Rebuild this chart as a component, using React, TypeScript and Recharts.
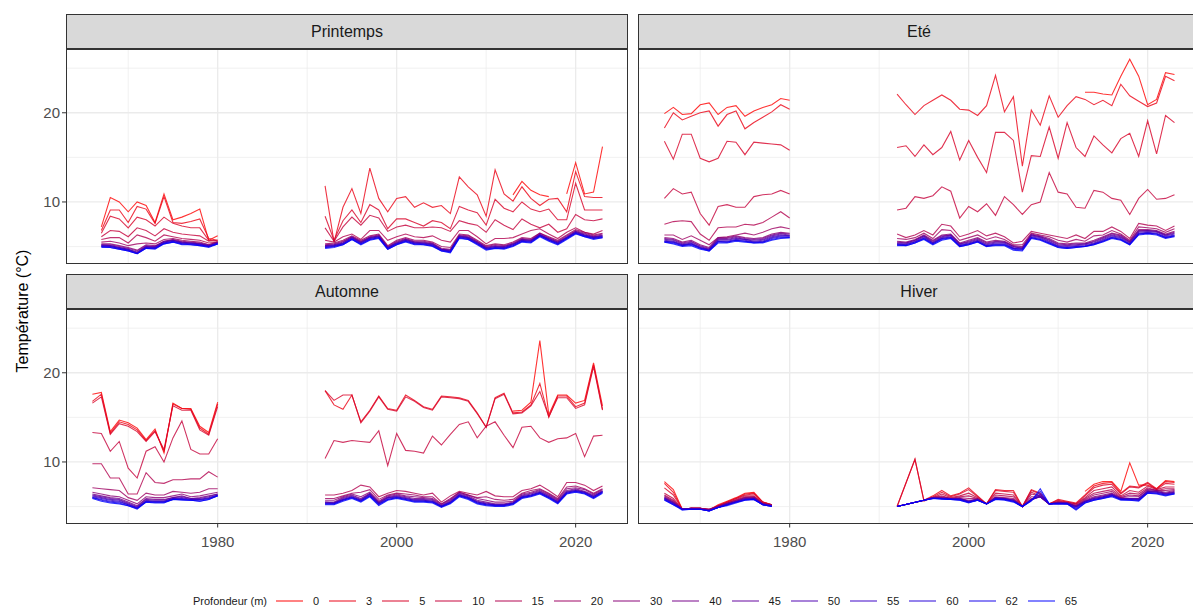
import React from "react";
import { LineChart, Line, XAxis, YAxis, CartesianGrid } from "recharts";

const N = null;
const _ = undefined;

// Years: 1966-1980 then 1992-2023
const YEARS = [
  1966, 1967, 1968, 1969, 1970, 1971, 1972, 1973, 1974, 1975, 1976, 1977, 1978, 1979, 1980,
  1992, 1993, 1994, 1995, 1996, 1997, 1998, 1999, 2000, 2001, 2002, 2003, 2004, 2005, 2006, 2007,
  2008, 2009, 2010, 2011, 2012, 2013, 2014, 2015, 2016, 2017, 2018, 2019, 2020, 2021, 2022, 2023,
];
const DEPTHS = [0, 3, 5, 10, 15, 20, 30, 40, 45, 50, 55, 60, 62, 65];
const SEASONS = ["Printemps", "Eté", "Automne", "Hiver"];
const Y_MAJOR = [10, 20];
const Y_MINOR = [5, 15, 25];
const X_MAJOR = [1980, 2000, 2020];
const X_MINOR = [1970, 1990, 2010];

// ---------------- Printemps ----------------
const P_0 = [N, 7.2, 10.5, 10.0, 8.9, 10.0, 9.6, 7.7, 10.9, 8.0, 8.3, 8.7, 9.2, 5.7, 6.2,
  N, N, N, N, N, N, N, N, N, N, N, N, N, N, N, N, N, N, N, N, N,
  10.8, 12.3, 11.3, 10.8, 10.6, N, 10.9, 14.4, 10.9, 11.1, 16.2];
const P_3 = [N, 6.8, 9.1, 9.1, 7.7, 9.5, 9.2, 7.6, 10.6, 7.7, 7.6, 7.8, 8.1, 5.9, 5.7,
  11.8, 5.5, 9.4, 11.5, 8.7, 13.8, 10.4, 8.9, 10.4, 10.6, 9.4, 9.9, 9.4, 9.6, 8.7, 12.8,
  11.7, 10.8, 8.4, 13.6, 10.9, 10.1, 11.7, 10.4, 9.6, 10.3, 10.4, 8.9, 13.4, 10.6, 10.5, 10.5];
const P_5 = [N, 6.5, 8.4, 8.1, 7.1, 8.3, 8.0, 7.3, 8.3, 7.6, 7.3, 7.1, 7.1, 5.7, 5.6,
  8.4, 5.7, 7.9, 9.1, 7.7, 9.7, 9.1, 7.0, 8.1, 8.1, 7.7, 7.3, 7.9, 7.7, 7.0, 9.5,
  9.1, 8.8, 7.4, 10.3, 9.3, 8.9, 10.0, 9.2, 8.9, 9.2, 8.0, 8.0, 12.1, 9.1, 9.1, 9.1];
const P_10 = [N, 6.1, 6.8, 6.7, 6.1, 7.1, 6.8, 6.2, 7.0, 6.6, 6.4, 6.3, 6.2, 5.6, 5.7,
  7.1, 5.6, 7.2, 8.3, 7.4, 8.5, 8.2, 6.7, 7.2, 7.4, 7.1, 7.1, 7.2, 7.1, 6.7, 7.9,
  7.6, 7.4, 6.6, 8.0, 7.4, 6.9, 8.1, 7.5, 7.1, 7.5, 6.6, 7.0, 8.6, 8.0, 7.9, 8.1];
const P_15 = [N, 5.8, 6.0, 6.0, 5.4, 6.3, 6.0, 5.6, 6.3, 6.1, 5.9, 5.8, 5.7, 5.4, 5.5,
  5.7, 5.5, 6.1, 6.4, 5.8, 6.8, 6.8, 5.7, 6.1, 6.4, 6.1, 6.0, 6.2, 5.7, 5.5, 6.8,
  6.8, 6.1, 5.3, 5.9, 5.9, 6.0, 6.4, 6.8, 7.0, 6.4, 5.9, 6.6, 7.1, 6.6, 6.4, 6.8];
const P_20 = [N, 5.5, 5.6, 5.4, 5.1, 5.3, 5.4, 5.3, 5.8, 5.9, 5.7, 5.6, 5.5, 5.2, 5.5,
  5.3, 5.4, 5.7, 6.2, 5.7, 6.2, 6.4, 5.1, 5.7, 6.0, 5.7, 5.7, 5.5, 5.0, 4.9, 6.4,
  6.3, 5.7, 5.1, 5.3, 5.2, 5.5, 6.0, 5.9, 6.5, 6.1, 5.7, 6.3, 6.9, 6.6, 6.3, 6.5];
const P_30 = [N, 5.3, 5.3, 5.1, 4.9, 4.6, 5.2, 5.1, 5.6, 5.8, 5.6, 5.5, 5.4, 5.2, 5.5,
  5.2, 5.3, 5.6, 6.1, 5.6, 6.1, 6.3, 5.0, 5.6, 5.9, 5.6, 5.6, 5.4, 4.8, 4.7, 6.3,
  6.2, 5.6, 5.0, 5.2, 5.1, 5.4, 5.9, 5.8, 6.5, 6.0, 5.6, 6.2, 6.8, 6.5, 6.2, 6.4];
const P_40 = [N, 5.2, 5.2, 5.0, 4.8, 4.5, 5.1, 5.0, 5.6, 5.7, 5.5, 5.4, 5.3, 5.1, 5.5,
  5.1, 5.2, 5.5, 6.1, 5.5, 6.0, 6.2, 4.9, 5.5, 5.8, 5.5, 5.5, 5.3, 4.7, 4.6, 6.2,
  6.1, 5.5, 4.9, 5.1, 5.0, 5.3, 5.8, 5.7, 6.4, 5.9, 5.5, 6.1, 6.7, 6.4, 6.1, 6.3];
const P_45 = [N, 5.2, 5.1, 4.9, 4.7, 4.4, 5.0, 5.0, 5.5, 5.7, 5.5, 5.4, 5.3, 5.1, 5.4,
  5.1, 5.2, 5.4, 6.0, 5.5, 6.0, 6.2, 4.9, 5.4, 5.8, 5.5, 5.4, 5.3, 4.7, 4.6, 6.2,
  6.0, 5.5, 4.9, 5.0, 5.0, 5.3, 5.8, 5.7, 6.3, 5.9, 5.5, 6.0, 6.7, 6.3, 6.1, 6.2];
const P_50 = [N, 5.1, 5.1, 4.9, 4.7, 4.3, 5.0, 4.9, 5.5, 5.7, 5.4, 5.4, 5.3, 5.1, 5.4,
  5.0, 5.1, 5.4, 6.0, 5.4, 5.9, 6.1, 4.9, 5.4, 5.7, 5.4, 5.4, 5.2, 4.7, 4.5, 6.1,
  6.0, 5.4, 4.8, 5.0, 4.9, 5.2, 5.7, 5.6, 6.3, 5.8, 5.4, 6.0, 6.6, 6.3, 6.0, 6.2];
const P_55 = [N, 5.1, 5.0, 4.8, 4.6, 4.3, 4.9, 4.9, 5.4, 5.6, 5.4, 5.3, 5.2, 5.0, 5.4,
  5.0, 5.1, 5.3, 5.9, 5.4, 5.9, 6.1, 4.8, 5.3, 5.7, 5.4, 5.3, 5.2, 4.6, 4.5, 6.1,
  5.9, 5.4, 4.8, 4.9, 4.9, 5.2, 5.7, 5.6, 6.3, 5.8, 5.4, 6.0, 6.6, 6.2, 6.0, 6.1];
const P_60 = [N, 5.0, 5.0, 4.8, 4.6, 4.2, 4.9, 4.8, 5.4, 5.6, 5.3, 5.3, 5.2, 5.0, 5.3,
  4.9, 5.0, 5.3, 5.9, 5.3, 5.8, 6.0, 4.8, 5.3, 5.6, 5.3, 5.3, 5.1, 4.6, 4.4, 6.0,
  5.9, 5.3, 4.7, 4.9, 4.8, 5.1, 5.6, 5.5, 6.2, 5.7, 5.3, 5.9, 6.5, 6.2, 5.9, 6.1];
const P_62 = [N, 5.0, 4.9, 4.7, 4.5, 4.2, 4.8, 4.8, 5.3, 5.5, 5.3, 5.2, 5.1, 5.0, 5.3,
  4.9, 5.0, 5.2, 5.8, 5.3, 5.8, 6.0, 4.7, 5.2, 5.6, 5.3, 5.2, 5.1, 4.5, 4.4, 6.0,
  5.8, 5.3, 4.7, 4.8, 4.8, 5.1, 5.6, 5.5, 6.2, 5.7, 5.3, 5.9, 6.5, 6.1, 5.9, 6.0];
const P_65 = [N, 4.9, 4.9, 4.7, 4.5, 4.2, 4.8, 4.7, 5.3, 5.5, 5.2, 5.2, 5.1, 4.9, 5.3,
  4.8, 4.9, 5.2, 5.8, 5.2, 5.7, 5.9, 4.7, 5.2, 5.5, 5.2, 5.2, 5.0, 4.5, 4.3, 5.9,
  5.8, 5.2, 4.6, 4.8, 4.7, 5.0, 5.5, 5.4, 6.1, 5.6, 5.2, 5.8, 6.4, 6.1, 5.8, 6.0];

// ---------------- Eté ----------------
const E_0 = [19.9, 20.6, 19.8, 19.9, 20.9, 21.1, 19.8, 20.6, 20.8, 19.6, 20.2, 20.6, 20.9, 21.6, 21.4,
  N, N, N, N, N, N, N, N, N, N, N, N, N, N, N, N, N, N, N, N, N,
  22.3, 22.3, 22.1, 22.0, 24.1, 26.0, 24.1, 20.9, 21.5, 24.5, 24.3];
const E_3 = [18.3, 20.0, 19.2, 19.6, 20.0, 20.2, 18.5, 19.8, 20.2, 18.2, 18.9, 19.5, 20.1, 20.9, 20.4,
  22.1, 20.9, 19.8, 20.8, 21.4, 22.0, 21.4, 20.4, 20.3, 19.7, 20.8, 24.2, 20.1, 21.8, 14.0, 20.3,
  18.6, 21.9, 19.5, 20.8, 21.8, 21.5, 20.9, 21.4, 20.8, 23.2, 21.9, 21.3, 20.7, 21.1, 24.1, 23.6];
const E_5 = [16.8, 14.8, 17.6, 17.6, 14.9, 14.5, 14.9, 16.8, 16.7, 15.3, 16.7, 16.6, 16.5, 16.4, 15.8,
  16.1, 16.3, 15.1, 16.4, 15.3, 16.1, 17.9, 14.7, 16.9, 15.0, 13.3, 17.8, 17.8, 16.9, 11.1, 15.2,
  15.1, 18.4, 14.9, 18.9, 16.1, 15.1, 17.4, 16.4, 15.5, 17.1, 17.7, 15.1, 19.1, 15.4, 19.7, 18.9];
const E_10 = [10.4, 11.5, 10.9, 11.1, 8.7, 7.4, 9.5, 9.7, 9.4, 9.4, 10.6, 10.8, 10.9, 11.3, 10.9,
  9.1, 9.3, 10.6, 10.4, 10.7, 11.7, 11.2, 8.2, 9.5, 8.9, 9.8, 8.5, 10.6, 9.7, 8.6, 9.7,
  10.0, 13.3, 11.1, 10.9, 9.4, 9.3, 11.3, 11.1, 10.4, 10.2, 8.6, 10.4, 11.4, 10.3, 10.4, 10.8];
const E_15 = [7.5, 7.8, 7.9, 7.8, 6.4, 5.7, 7.1, 7.2, 7.2, 7.5, 7.4, 7.7, 8.3, 8.9, 8.2,
  6.4, 6.0, 6.3, 6.8, 6.3, 7.5, 7.3, 6.1, 6.4, 6.8, 6.2, 6.5, 6.1, 5.4, 5.6, 6.7,
  6.5, 6.3, 6.1, 5.9, 6.3, 5.9, 6.7, 6.7, 7.2, 6.7, 5.9, 7.6, 7.4, 7.3, 6.8, 7.3];
const E_20 = [6.3, 6.3, 5.8, 6.2, 5.7, 5.2, 6.0, 6.1, 6.3, 6.5, 6.3, 6.6, 7.0, 7.2, 7.0,
  5.9, 5.8, 6.0, 6.5, 5.9, 6.9, 6.8, 5.7, 6.0, 6.3, 5.8, 6.1, 5.8, 5.2, 5.2, 6.5,
  6.3, 6.1, 5.7, 5.5, 5.8, 5.6, 6.2, 6.3, 6.8, 6.4, 5.7, 7.2, 7.1, 7.0, 6.6, 7.0];
const E_30 = [6.0, 5.9, 5.5, 5.7, 5.2, 4.9, 6.0, 6.0, 6.2, 6.0, 5.9, 6.0, 6.4, 6.6, 6.5,
  5.6, 5.5, 5.8, 6.3, 5.7, 6.3, 6.4, 5.4, 5.7, 6.0, 5.5, 5.7, 5.6, 5.1, 5.0, 6.4,
  6.2, 5.9, 5.4, 5.3, 5.4, 5.4, 5.7, 6.1, 6.5, 6.3, 5.6, 6.9, 6.9, 6.8, 6.4, 6.7];
const E_40 = [5.9, 5.8, 5.4, 5.6, 5.1, 4.8, 5.9, 5.9, 6.1, 5.9, 5.8, 5.9, 6.3, 6.5, 6.4,
  5.5, 5.4, 5.7, 6.2, 5.6, 6.2, 6.3, 5.3, 5.6, 5.9, 5.4, 5.6, 5.5, 5.0, 4.9, 6.3,
  6.1, 5.8, 5.3, 5.2, 5.3, 5.3, 5.6, 6.0, 6.4, 6.2, 5.5, 6.8, 6.8, 6.7, 6.3, 6.6];
const E_45 = [5.8, 5.7, 5.3, 5.5, 5.0, 4.7, 5.8, 5.8, 6.0, 5.8, 5.7, 5.8, 6.2, 6.4, 6.3,
  5.4, 5.4, 5.7, 6.2, 5.5, 6.1, 6.3, 5.3, 5.5, 5.8, 5.3, 5.5, 5.5, 5.0, 4.8, 6.3,
  6.1, 5.7, 5.2, 5.1, 5.2, 5.3, 5.5, 5.9, 6.3, 6.1, 5.5, 6.7, 6.8, 6.7, 6.3, 6.5];
const E_50 = [5.7, 5.6, 5.2, 5.4, 4.9, 4.7, 5.7, 5.7, 5.9, 5.8, 5.6, 5.7, 6.1, 6.3, 6.2,
  5.3, 5.3, 5.6, 6.1, 5.4, 6.0, 6.2, 5.2, 5.4, 5.7, 5.2, 5.4, 5.4, 4.9, 4.8, 6.2,
  6.0, 5.6, 5.1, 5.0, 5.1, 5.2, 5.4, 5.8, 6.2, 6.0, 5.4, 6.6, 6.7, 6.6, 6.2, 6.4];
const E_55 = [5.6, 5.5, 5.2, 5.3, 4.9, 4.6, 5.6, 5.6, 5.8, 5.7, 5.5, 5.6, 6.0, 6.2, 6.2,
  5.3, 5.2, 5.5, 6.0, 5.4, 5.9, 6.1, 5.1, 5.3, 5.6, 5.1, 5.3, 5.3, 4.8, 4.7, 6.1,
  5.9, 5.5, 5.0, 4.9, 5.0, 5.1, 5.3, 5.7, 6.1, 5.9, 5.3, 6.5, 6.6, 6.5, 6.1, 6.3];
const E_60 = [5.6, 5.5, 5.1, 5.3, 4.8, 4.6, 5.6, 5.5, 5.7, 5.6, 5.5, 5.5, 5.9, 6.1, 6.1,
  5.2, 5.2, 5.5, 5.9, 5.3, 5.9, 6.0, 5.1, 5.3, 5.6, 5.1, 5.2, 5.2, 4.8, 4.7, 6.0,
  5.8, 5.4, 5.0, 4.9, 5.0, 5.0, 5.3, 5.6, 6.0, 5.8, 5.3, 6.4, 6.5, 6.4, 6.0, 6.2];
const E_62 = [5.5, 5.4, 5.1, 5.2, 4.8, 4.5, 5.5, 5.5, 5.7, 5.6, 5.4, 5.5, 5.8, 6.0, 6.0,
  5.2, 5.1, 5.4, 5.9, 5.3, 5.8, 6.0, 5.0, 5.2, 5.5, 5.0, 5.2, 5.2, 4.7, 4.6, 6.0,
  5.8, 5.4, 4.9, 4.8, 4.9, 5.0, 5.2, 5.6, 6.0, 5.8, 5.2, 6.4, 6.5, 6.4, 6.0, 6.2];
const E_65 = [5.5, 5.3, 5.0, 5.1, 4.7, 4.5, 5.4, 5.4, 5.6, 5.5, 5.4, 5.4, 5.7, 5.9, 6.0,
  5.1, 5.1, 5.4, 5.8, 5.2, 5.7, 5.9, 5.0, 5.2, 5.5, 5.0, 5.1, 5.1, 4.6, 4.5, 5.9,
  5.7, 5.3, 4.9, 4.8, 4.9, 5.0, 5.2, 5.5, 5.9, 5.7, 5.2, 6.3, 6.4, 6.3, 5.9, 6.1];

// ---------------- Automne ----------------
const A_0 = [17.6, 17.8, 13.4, 14.7, 14.4, 13.8, 12.5, 13.7, 11.0, 16.6, 16.0, 16.0, 14.0, 13.3, 16.7,
  N, N, N, N, N, N, N, N, N, N, N, N, N, N, N, N, N, N, N, N, N,
  15.7, 15.8, 16.7, 23.6, 15.3, 17.5, 17.5, 16.6, 16.9, 21.1, 16.3];
const A_3 = [16.8, 17.6, 13.2, 14.5, 14.2, 13.6, 12.4, 13.5, 11.2, 16.5, 16.0, 15.9, 13.8, 13.1, 16.5,
  18.0, 16.4, 15.9, 17.5, 14.5, 15.8, 17.4, 16.0, 15.8, 17.5, 16.9, 16.2, 15.9, 17.4, 17.3, 17.2,
  16.9, 15.5, 13.9, 17.2, 17.7, 15.5, 15.6, 16.4, 18.8, 15.0, 17.4, 17.4, 16.2, 16.6, 20.9, 15.9];
const A_5 = [16.6, 17.3, 13.1, 14.3, 14.0, 13.4, 12.3, 13.4, 11.4, 16.3, 15.8, 15.8, 13.6, 13.0, 16.2,
  18.0, 16.9, 17.5, 17.5, 14.4, 15.7, 17.3, 15.9, 15.7, 17.3, 16.8, 16.1, 15.8, 17.3, 17.2, 17.1,
  16.8, 15.4, 13.9, 17.1, 17.6, 15.4, 15.5, 16.3, 17.9, 15.1, 17.2, 17.2, 16.0, 16.4, 20.7, 15.8];
const A_10 = [13.3, 13.2, 11.2, 12.3, 9.3, 8.2, 11.2, 11.7, 10.0, 12.7, 14.6, 11.4, 10.9, 10.9, 12.6,
  10.4, 12.4, 12.2, 12.4, 12.3, 12.2, 13.5, 9.6, 13.2, 11.3, 11.2, 11.0, 12.9, 11.9, 13.1, 14.2,
  14.5, 12.7, 14.0, 14.5, 13.0, 11.6, 13.9, 14.0, 12.7, 12.2, 12.6, 12.7, 13.2, 10.6, 12.9, 13.0];
const A_15 = [9.8, 9.8, 8.2, 8.2, 6.4, 6.4, 8.8, 7.7, 7.6, 8.0, 8.0, 8.1, 8.1, 8.9, 8.3,
  6.3, 6.3, 6.5, 6.8, 7.4, 7.2, 6.1, 6.5, 6.8, 6.7, 6.5, 6.3, 6.5, 5.5, 6.2, 6.7,
  6.5, 6.3, 6.7, 6.2, 6.1, 6.1, 6.8, 7.0, 7.4, 6.8, 6.1, 7.7, 7.7, 7.4, 6.8, 7.3];
const A_20 = [7.1, 7.0, 6.9, 6.8, 6.0, 5.7, 6.5, 6.3, 6.3, 6.7, 6.6, 6.5, 6.6, 7.0, 7.0,
  5.9, 5.9, 6.2, 6.5, 6.6, 6.9, 5.8, 6.3, 6.5, 6.4, 6.3, 6.1, 6.1, 5.3, 5.9, 6.6,
  6.3, 6.0, 6.1, 5.8, 5.7, 5.8, 6.5, 6.8, 7.0, 6.5, 5.9, 7.2, 7.3, 7.0, 6.5, 7.0];
const A_30 = [6.6, 6.4, 6.2, 6.1, 5.7, 5.3, 6.1, 6.0, 6.0, 6.2, 6.4, 6.1, 6.2, 6.4, 6.6,
  5.7, 5.7, 6.1, 6.4, 6.1, 6.6, 5.6, 6.2, 6.4, 6.2, 6.1, 6.0, 5.9, 5.3, 5.8, 6.6,
  6.3, 5.9, 5.7, 5.5, 5.5, 5.6, 6.4, 6.6, 6.9, 6.4, 5.8, 7.0, 7.1, 6.9, 6.4, 6.9];
const A_40 = [6.4, 6.2, 6.0, 5.9, 5.5, 5.1, 5.9, 5.8, 5.8, 6.0, 6.2, 5.9, 6.0, 6.2, 6.4,
  5.5, 5.5, 6.0, 6.3, 5.9, 6.5, 5.5, 6.1, 6.3, 6.1, 5.9, 5.9, 5.8, 5.2, 5.7, 6.5,
  6.2, 5.7, 5.5, 5.3, 5.3, 5.5, 6.3, 6.5, 6.8, 6.3, 5.7, 6.8, 7.0, 6.7, 6.3, 6.8];
const A_45 = [6.3, 6.1, 5.9, 5.8, 5.4, 5.0, 5.8, 5.7, 5.7, 6.0, 6.1, 5.9, 5.9, 6.1, 6.4,
  5.5, 5.4, 5.9, 6.2, 5.8, 6.4, 5.4, 6.0, 6.2, 6.0, 5.8, 5.8, 5.7, 5.1, 5.6, 6.4,
  6.1, 5.6, 5.4, 5.2, 5.2, 5.4, 6.2, 6.4, 6.7, 6.2, 5.6, 6.7, 6.9, 6.6, 6.2, 6.7];
const A_50 = [6.2, 6.0, 5.8, 5.7, 5.3, 4.9, 5.7, 5.6, 5.6, 5.9, 6.0, 5.8, 5.8, 6.0, 6.3,
  5.4, 5.4, 5.8, 6.1, 5.7, 6.4, 5.4, 6.0, 6.1, 5.9, 5.7, 5.7, 5.6, 5.1, 5.5, 6.3,
  6.0, 5.5, 5.3, 5.2, 5.2, 5.4, 6.1, 6.3, 6.6, 6.1, 5.5, 6.6, 6.8, 6.6, 6.1, 6.7];
const A_55 = [6.1, 5.9, 5.7, 5.6, 5.2, 4.9, 5.6, 5.6, 5.6, 5.9, 5.9, 5.8, 5.8, 5.9, 6.3,
  5.4, 5.4, 5.8, 6.1, 5.7, 6.3, 5.3, 5.9, 6.1, 5.9, 5.7, 5.7, 5.6, 5.0, 5.5, 6.3,
  6.0, 5.5, 5.3, 5.2, 5.2, 5.4, 6.1, 6.3, 6.6, 6.1, 5.5, 6.6, 6.8, 6.6, 6.1, 6.7];
const A_60 = [6.0, 5.8, 5.6, 5.5, 5.2, 4.8, 5.6, 5.5, 5.5, 5.8, 5.8, 5.7, 5.7, 5.9, 6.2,
  5.3, 5.3, 5.7, 6.0, 5.6, 6.2, 5.3, 5.8, 6.0, 5.8, 5.6, 5.6, 5.5, 5.0, 5.4, 6.2,
  5.9, 5.4, 5.2, 5.1, 5.1, 5.3, 6.0, 6.2, 6.5, 6.0, 5.4, 6.5, 6.7, 6.5, 6.0, 6.6];
const A_62 = [6.0, 5.7, 5.5, 5.4, 5.1, 4.8, 5.5, 5.5, 5.5, 5.8, 5.8, 5.7, 5.6, 5.8, 6.2,
  5.3, 5.3, 5.7, 6.0, 5.6, 6.2, 5.2, 5.8, 6.0, 5.8, 5.6, 5.6, 5.5, 5.0, 5.4, 6.2,
  5.9, 5.4, 5.2, 5.1, 5.1, 5.3, 6.0, 6.2, 6.5, 6.0, 5.4, 6.5, 6.7, 6.5, 6.0, 6.6];
const A_65 = [5.9, 5.6, 5.4, 5.3, 5.1, 4.7, 5.5, 5.4, 5.4, 5.8, 5.7, 5.7, 5.6, 5.8, 6.2,
  5.2, 5.2, 5.6, 5.9, 5.5, 6.1, 5.1, 5.7, 5.9, 5.7, 5.5, 5.5, 5.4, 4.9, 5.3, 6.1,
  5.8, 5.3, 5.1, 5.0, 5.0, 5.2, 5.9, 6.1, 6.4, 5.9, 5.3, 6.4, 6.6, 6.4, 5.9, 6.5];

// ---------------- Hiver ----------------
const H_0 = [7.8, 6.9, 4.7, 4.8, 4.8, 4.6, 5.2, 5.6, 6.0, 6.5, 6.6, 5.5, 5.2, N, N,
  N, N, N, N, N, N, N, N, N, N, N, N, N, N, N, N, N, N, N, N, N,
  6.7, 7.5, 7.8, 7.8, 6.7, 9.9, 7.4, 7.4, 7.0, 7.9, 7.8];
const H_3 = [7.6, 6.6, 4.7, 4.8, 4.8, 4.6, 5.1, 5.5, 5.9, 6.4, 6.5, 5.5, 5.2, N, N,
  5.0, _, 10.3, 5.7, 6.2, 6.8, 6.2, 6.5, 7.1, 6.2, 5.3, 6.9, 6.8, 6.8, 5.0, 6.9,
  6.5, 5.3, 5.8, 5.6, 5.4, 6.3, 7.3, 7.6, 7.7, 6.5, 7.3, 7.2, 7.7, 7.0, 7.8, 7.7];
const H_5 = [7.1, 6.3, 4.7, 4.8, 4.8, 4.6, 5.1, 5.5, 5.9, 6.3, 6.4, 5.5, 5.2, N, N,
  5.0, _, 10.3, 5.6, 6.1, 6.6, 6.1, 6.4, 6.9, 6.1, 5.3, 6.8, 6.7, 6.6, 5.0, 6.8,
  6.4, 5.3, 5.7, 5.5, 5.3, 6.2, 7.1, 7.4, 7.5, 6.4, 7.2, 7.1, 7.6, 6.9, 7.6, 7.5];
const H_10 = [6.5, 5.9, 4.7, 4.8, 4.8, 4.7, 5.1, 5.4, 5.8, 6.2, 6.2, 5.4, 5.2, N, N,
  5.0, _, _, 5.7, 6.0, 6.4, 6.0, 6.2, 6.5, 6.0, 5.3, 6.5, 6.4, 6.3, 5.0, 6.6,
  6.2, 5.3, 5.6, 5.5, 5.3, 6.0, 6.8, 7.0, 7.2, 6.2, 6.8, 6.6, 7.3, 6.9, 7.2, 7.2];
const H_15 = [6.3, 5.7, 4.7, 4.8, 4.8, 4.7, 5.0, 5.4, 5.7, 6.1, 6.1, 5.4, 5.1, N, N,
  5.0, _, _, 5.7, 6.0, 6.2, 5.9, 6.1, 6.2, 5.9, 5.3, 6.3, 6.2, 6.1, 5.0, 6.4,
  6.2, 5.3, 5.5, 5.4, 5.2, 5.9, 6.5, 6.7, 6.9, 6.1, 6.5, 6.4, 7.1, 6.8, 7.0, 7.0];
const H_20 = [6.2, 5.6, 4.7, 4.8, 4.8, 4.7, 5.0, 5.4, 5.7, 6.0, 6.1, 5.3, 5.1, N, N,
  5.0, _, _, 5.7, 6.0, 6.1, 5.9, 6.0, 5.9, 5.9, 5.3, 6.1, 6.0, 5.9, 5.0, 6.1,
  6.1, 5.3, 5.5, 5.4, 5.1, 5.8, 6.3, 6.5, 6.7, 6.0, 6.3, 6.2, 7.0, 6.8, 6.8, 6.9];
const H_30 = [6.1, 5.5, 4.7, 4.8, 4.8, 4.6, 5.0, 5.3, 5.6, 6.0, 6.0, 5.3, 5.1, N, N,
  5.0, _, _, 5.7, 6.0, 6.0, 5.9, 5.9, 5.7, 5.8, 5.3, 6.0, 5.9, 5.8, 5.0, 5.9,
  6.1, 5.3, 5.4, 5.4, 5.1, 5.7, 6.1, 6.3, 6.5, 6.0, 6.1, 6.1, 6.9, 6.8, 6.6, 6.8];
const H_40 = [6.0, 5.5, 4.7, 4.8, 4.7, 4.6, 5.0, 5.3, 5.6, 5.9, 6.0, 5.3, 5.1, N, N,
  5.0, _, _, 5.7, 6.0, 6.0, 5.9, 5.9, 5.6, 5.8, 5.3, 6.0, 5.9, 5.7, 5.0, 5.8,
  6.1, 5.3, 5.4, 5.4, 5.0, 5.6, 6.0, 6.2, 6.4, 5.9, 5.9, 5.9, 6.8, 6.7, 6.5, 6.7];
const H_45 = [6.0, 5.4, 4.7, 4.7, 4.7, 4.6, 4.9, 5.3, 5.6, 5.9, 5.9, 5.3, 5.1, N, N,
  5.0, _, _, 5.7, 6.0, 5.9, 5.9, 5.9, 5.6, 5.8, 5.3, 6.0, 5.9, 5.7, 5.0, 5.8,
  6.1, 5.3, 5.4, 5.4, 5.0, 5.6, 5.9, 6.1, 6.4, 5.9, 5.9, 5.9, 6.7, 6.7, 6.5, 6.6];
const H_50 = [5.9, 5.4, 4.7, 4.7, 4.7, 4.6, 4.9, 5.2, 5.5, 5.8, 5.9, 5.2, 5.1, N, N,
  5.0, _, _, 5.7, 6.0, 5.9, 5.9, 5.8, 5.6, 5.8, 5.3, 5.9, 5.9, 5.7, 5.0, 5.8,
  6.1, 5.3, 5.4, 5.4, 5.0, 5.6, 5.9, 6.1, 6.3, 5.9, 5.9, 5.8, 6.7, 6.6, 6.4, 6.6];
const H_55 = [5.9, 5.3, 4.7, 4.7, 4.7, 4.5, 4.9, 5.2, 5.5, 5.8, 5.9, 5.2, 5.1, N, N,
  5.0, _, _, 5.7, 5.9, 5.9, 5.8, 5.8, 5.5, 5.7, 5.3, 5.9, 5.8, 5.6, 5.0, 5.7,
  6.2, 5.3, 5.4, 5.3, 4.9, 5.5, 5.8, 6.0, 6.3, 5.8, 5.8, 5.8, 6.6, 6.6, 6.4, 6.5];
const H_60 = [5.8, 5.3, 4.7, 4.7, 4.7, 4.5, 4.9, 5.2, 5.5, 5.8, 5.8, 5.2, 5.0, N, N,
  5.0, _, _, 5.7, 5.9, 5.9, 5.8, 5.8, 5.5, 5.7, 5.3, 5.9, 5.8, 5.6, 5.0, 5.7,
  6.4, 5.3, 5.3, 5.3, 4.8, 5.5, 5.8, 6.0, 6.2, 5.8, 5.8, 5.7, 6.6, 6.5, 6.3, 6.5];
const H_62 = [5.8, 5.2, 4.7, 4.7, 4.7, 4.5, 4.9, 5.2, 5.5, 5.7, 5.8, 5.2, 5.0, N, N,
  5.0, _, _, 5.7, 5.9, 5.9, 5.8, 5.7, 5.5, 5.7, 5.3, 5.8, 5.8, 5.6, 5.0, 5.7,
  6.7, 5.3, 5.3, 5.3, 4.7, 5.4, 5.7, 5.9, 6.2, 5.8, 5.7, 5.7, 6.5, 6.5, 6.3, 6.4];
const H_65 = [5.7, 5.2, 4.6, 4.7, 4.7, 4.5, 4.9, 5.1, 5.4, 5.7, 5.8, 5.2, 5.0, N, N,
  5.0, _, _, 5.7, 5.9, 5.8, 5.8, 5.7, 5.4, 5.7, 5.3, 5.8, 5.7, 5.5, 5.0, 5.6,
  7.0, 5.3, 5.3, 5.3, 4.6, 5.4, 5.7, 5.9, 6.1, 5.7, 5.7, 5.6, 6.5, 6.4, 6.2, 6.4];

const PRINTEMPS = [P_0, P_3, P_5, P_10, P_15, P_20, P_30, P_40, P_45, P_50, P_55, P_60, P_62, P_65];
const ETE = [E_0, E_3, E_5, E_10, E_15, E_20, E_30, E_40, E_45, E_50, E_55, E_60, E_62, E_65];
const AUTOMNE = [A_0, A_3, A_5, A_10, A_15, A_20, A_30, A_40, A_45, A_50, A_55, A_60, A_62, A_65];
const HIVER = [H_0, H_3, H_5, H_10, H_15, H_20, H_30, H_40, H_45, H_50, H_55, H_60, H_62, H_65];
const SEASON_SERIES = [PRINTEMPS, ETE, AUTOMNE, HIVER];

// ---------------- layout / style ----------------
const FONT = '"Liberation Sans", Arial, Helvetica, sans-serif';
const X_DOMAIN: [number, number] = [1963.05, 2025.85];
const Y_DOMAIN: [number, number] = [3.1, 27.15];
const PLOT_W = 562;
const PLOT_H = 214.5;
const STRIP_H = 35;
const PANEL_X = [66, 638];
const PANEL_Y = [49, 309];

// RGB ramp red -> blue over the 14 depth levels
function levelColor(i: number, n: number) {
  const t = i / (n - 1);
  const r = Math.round(255 * (1 - t));
  const b = Math.round(255 * t);
  const hx = (v: number) => v.toString(16).padStart(2, "0");
  return "#" + hx(r) + "00" + hx(b);
}
const COLORS = DEPTHS.map((_d, i) => levelColor(i, DEPTHS.length));

function toPoints(vals: (number | null | undefined)[]) {
  const pts: { year: number; v: number | null }[] = [];
  for (let i = 0; i < YEARS.length; i++) {
    if (i > 0 && YEARS[i] - YEARS[i - 1] > 1) {
      pts.push({ year: (YEARS[i] + YEARS[i - 1]) / 2, v: null });
    }
    const v = vals[i];
    if (v === undefined) continue;
    pts.push({ year: YEARS[i], v });
  }
  return pts;
}

const tickStyle = { fill: "#4d4d4d", fontSize: 15, fontFamily: FONT };

function Panel({ idx }: { idx: number }) {
  const col = idx % 2;
  const row = Math.floor(idx / 2);
  const showY = col === 0;
  const showX = row === 1;
  const yW = showY ? 66 : 0;
  const xH = showX ? 40 : 0;
  const left = PANEL_X[col];
  const top = PANEL_Y[row];
  const series = SEASON_SERIES[idx];
  return (
    <>
      <div
        style={{
          position: "absolute",
          left,
          top: top - STRIP_H,
          width: PLOT_W,
          height: STRIP_H,
          background: "#d9d9d9",
          border: "1px solid #333333",
          boxSizing: "border-box",
          display: "flex",
          alignItems: "center",
          justifyContent: "center",
          fontFamily: FONT,
          fontSize: 16,
          color: "#1a1a1a",
        }}
      >
        {SEASONS[idx]}
      </div>
      <div style={{ position: "absolute", left: left - yW, top }}>
        <LineChart
          width={PLOT_W + yW}
          height={PLOT_H + xH}
          margin={{ top: 0, right: 0, bottom: 0, left: 0 }}
        >
          <CartesianGrid
            horizontalValues={Y_MINOR}
            verticalValues={X_MINOR}
            stroke="#ebebeb"
            strokeWidth={0.7}
          />
          <CartesianGrid
            horizontalValues={Y_MAJOR}
            verticalValues={X_MAJOR}
            stroke="#ebebeb"
            strokeWidth={1.3}
          />
          <XAxis
            type="number"
            dataKey="year"
            domain={X_DOMAIN}
            allowDataOverflow
            ticks={X_MAJOR}
            interval={0}
            hide={!showX}
            height={xH}
            axisLine={false}
            tickLine={{ stroke: "#333333" }}
            tickSize={4}
            tickMargin={9}
            tick={tickStyle}
          />
          <YAxis
            type="number"
            domain={Y_DOMAIN}
            allowDataOverflow
            ticks={Y_MAJOR}
            interval={0}
            hide={!showY}
            width={yW}
            axisLine={false}
            tickLine={{ stroke: "#333333" }}
            tickSize={4}
            tickMargin={2}
            tick={tickStyle}
          />
          {series.map((vals, i) => (
            <Line
              key={DEPTHS[i]}
              data={toPoints(vals)}
              dataKey="v"
              type="linear"
              stroke={COLORS[i]}
              strokeOpacity={0.8}
              strokeWidth={1.1}
              dot={false}
              activeDot={false}
              connectNulls={false}
              isAnimationActive={false}
            />
          ))}
        </LineChart>
      </div>
      <div
        style={{
          position: "absolute",
          left,
          top,
          width: PLOT_W,
          height: PLOT_H,
          border: "1px solid #333333",
          boxSizing: "border-box",
          pointerEvents: "none",
        }}
      />
    </>
  );
}

function Legend() {
  return (
    <div
      style={{
        position: "absolute",
        left: 193,
        top: 592,
        height: 18,
        display: "flex",
        alignItems: "center",
        fontFamily: FONT,
        fontSize: 11,
        color: "#1a1a1a",
        whiteSpace: "nowrap",
      }}
    >
      <span>Profondeur (m)</span>
      {DEPTHS.map((d, i) => (
        <span key={d} style={{ display: "flex", alignItems: "center" }}>
          <svg width={27} height={10} style={{ marginLeft: 9 }}>
            <line x1={0} x2={27} y1={5} y2={5} stroke={COLORS[i]} strokeWidth={1.8} strokeOpacity={0.55} />
          </svg>
          <span style={{ marginLeft: 10, marginRight: 1 }}>{d}</span>
        </span>
      ))}
    </div>
  );
}

export default function App() {
  return (
    <div
      style={{
        position: "absolute",
        left: 0,
        top: 0,
        width: 1193,
        height: 608,
        overflow: "hidden",
        background: "#ffffff",
      }}
    >
      {[0, 1, 2, 3].map((i) => (
        <Panel key={i} idx={i} />
      ))}
      <svg style={{ position: "absolute", left: 0, top: 0 }} width={44} height={608}>
        <text
          x={22}
          y={311}
          transform="rotate(-90 22 311)"
          textAnchor="middle"
          dominantBaseline="central"
          fontFamily={FONT}
          fontSize={16}
          fill="#000000"
        >
          Température (°C)
        </text>
      </svg>
      <Legend />
    </div>
  );
}
